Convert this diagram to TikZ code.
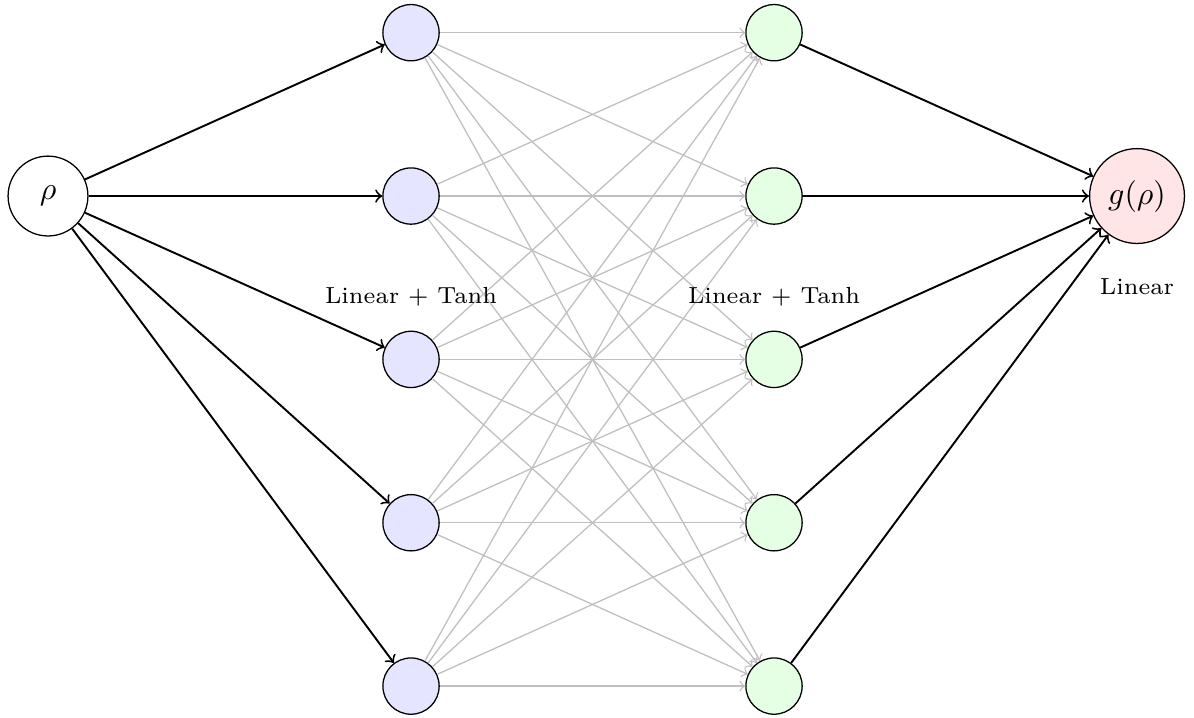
\documentclass[tikz,border=0pt]{standalone}
\usetikzlibrary{arrows}
\begin{document}
\begin{tikzpicture}[
  neuron/.style={circle,draw,thin,minimum size=0.62cm,inner sep=0pt},
  inp/.style={circle,draw,thin,minimum size=0.88cm,inner sep=0pt},
  hidA/.style={neuron,fill=blue!10},
  hidB/.style={neuron,fill=green!10},
  outp/.style={circle,draw,thin,fill=red!10},
  main/.style={->,semithick,black},
  weak/.style={->,gray!50,thin},
  lab/.style={font=\fontsize{7.3}{9}\selectfont}
]
\useasboundingbox (-0.529,-5.741) rectangle (12.628,2.160);
\node[inp] (in) at (0,0) {$\rho$};
\foreach \i/\y in {1/1.8,2/0,3/-1.8,4/-3.6,5/-5.4} {
  \node[hidA] (a\i) at (4,\y) {};
  \node[hidB] (b\i) at (8,\y) {};
}
\node[outp] (out) at (12,0) {$g(\rho)$};
\foreach \i in {1,...,5} {
  \draw[main] (in) -- (a\i);
  \draw[main] (b\i) -- (out);
  \foreach \j in {1,...,5} {
    \draw[weak] (a\i) -- (b\j);
  }
}
\node[lab] (l1) at (4,-1.11) {Linear + Tanh};
\node[lab] (l2) at (8,-1.11) {Linear + Tanh};
\node[lab] (l3) at (12,-1.0) {Linear};
\end{tikzpicture}
\end{document}
